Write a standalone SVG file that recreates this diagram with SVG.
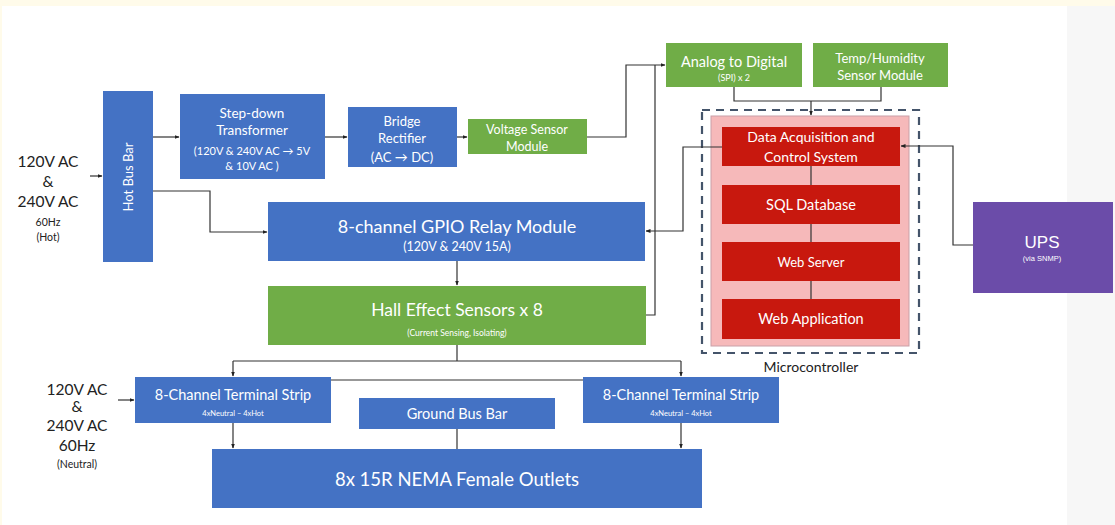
<svg xmlns="http://www.w3.org/2000/svg" width="1115" height="525" viewBox="0 0 1115 525">
<defs>
<marker id="ah" viewBox="0 0 10 10" refX="9" refY="5" markerWidth="5" markerHeight="5" orient="auto" markerUnits="userSpaceOnUse">
<path d="M0,1 L10,5 L0,9 z" fill="#222"/>
</marker>
<style>
.blue{fill:#4472C4}
.green{fill:#70AD47}
.red{fill:#C8180E}
.t{font-family:Lato,"Open Sans","Liberation Sans",sans-serif;fill:#fff;text-anchor:middle}
.k{font-family:Lato,"Open Sans","Liberation Sans",sans-serif;fill:#222;text-anchor:middle}
.a{font-family:"Liberation Sans",Arial,sans-serif;fill:#fff;text-anchor:middle}
.c{fill:none;stroke:#333;stroke-width:1.2}
.ar{marker-end:url(#ah)}
</style>
</defs>
<rect x="0" y="0" width="1115" height="525" fill="#ffffff"/>
<rect x="0" y="0" width="1115" height="6" fill="#FFFBEA"/>
<rect x="0" y="0" width="2" height="525" fill="#FFFBEA"/>
<rect x="1067" y="6" width="48" height="519" fill="#F7F7F7"/>

<g id="hot-input">
<text class="k" x="48" y="167" font-size="15.5">120V AC</text>
<text class="k" x="48" y="187" font-size="15.5">&amp;</text>
<text class="k" x="48" y="207" font-size="15.5">240V AC</text>
<text class="k" x="48" y="226" font-size="10.5">60Hz</text>
<text class="k" x="48" y="241" font-size="10.5">(Hot)</text>
</g>
<g id="hot-bus-bar">
<rect class="blue" x="103" y="91" width="50" height="171"/>
<text class="t" font-size="13" transform="translate(133,177) rotate(-90)">Hot Bus Bar</text>
</g>
<g id="step-down-transformer">
<rect class="blue" x="180" y="94" width="145" height="85"/>
<text class="t" x="252" y="118" font-size="13.5">Step-down</text>
<text class="t" x="252" y="135" font-size="13.5">Transformer</text>
<text class="t" x="252" y="155" font-size="11">(120V &amp; 240V AC → 5V</text>
<text class="t" x="252" y="170" font-size="11">&amp; 10V AC )</text>
</g>
<g id="bridge-rectifier">
<rect class="blue" x="348" y="107" width="109" height="60"/>
<text class="t" x="402" y="126" font-size="13">Bridge</text>
<text class="t" x="402" y="143" font-size="13">Rectifier</text>
<text class="t" x="402" y="162" font-size="13">(AC → DC)</text>
</g>
<g id="voltage-sensor">
<rect class="green" x="468" y="119" width="119" height="35"/>
<text class="t" x="527" y="134" font-size="12.5">Voltage Sensor</text>
<text class="t" x="527" y="151" font-size="12.5">Module</text>
</g>
<g id="analog-to-digital">
<rect class="green" x="666" y="43" width="136" height="44"/>
<text class="t" x="734" y="67" font-size="14.5">Analog to Digital</text>
<text class="t" x="734" y="81" font-size="9">(SPI) x 2</text>
</g>
<g id="temp-humidity">
<rect class="green" x="813" y="43" width="135" height="44"/>
<text class="t" x="880" y="63" font-size="13">Temp/Humidity</text>
<text class="t" x="880" y="80" font-size="13">Sensor Module</text>
</g>
<g id="gpio-relay">
<rect class="blue" x="268" y="202" width="377" height="59"/>
<text class="t" x="457" y="233" font-size="18">8-channel GPIO Relay Module</text>
<text class="t" x="457" y="251" font-size="12.5">(120V &amp; 240V 15A)</text>
</g>
<g id="hall-effect">
<rect class="green" x="268" y="286" width="378" height="59"/>
<text class="t" x="457" y="316" font-size="17.5">Hall Effect Sensors x 8</text>
<text class="t" x="457" y="336" font-size="8.5">(Current Sensing, Isolating)</text>
</g>
<g id="microcontroller">
<rect x="711" y="116" width="198" height="230" fill="#F6B9BA" stroke="#C9A0A8" stroke-width="1"/>
<rect x="702" y="110" width="217" height="243" fill="none" stroke="#44546A" stroke-width="2.2" stroke-dasharray="8,6"/>
<text class="k" x="811" y="372" font-size="14">Microcontroller</text>
</g>
<g id="data-acquisition">
<rect class="red" x="722" y="127" width="178" height="39"/>
<text class="t" x="811" y="142" font-size="14">Data Acquisition and</text>
<text class="t" x="811" y="162" font-size="14">Control System</text>
</g>
<g id="sql-database">
<rect class="red" x="722" y="185" width="178" height="39"/>
<text class="t" x="811" y="210" font-size="14.5">SQL Database</text>
</g>
<g id="web-server">
<rect class="red" x="722" y="242" width="178" height="39"/>
<text class="t" x="811" y="267" font-size="13">Web Server</text>
</g>
<g id="web-application">
<rect class="red" x="722" y="299" width="178" height="40"/>
<text class="t" x="811" y="324" font-size="14.5">Web Application</text>
</g>
<g id="ups">
<rect x="973" y="202" width="140" height="91" fill="#6B4CA9"/>
<text class="a" x="1042" y="248" font-size="17">UPS</text>
<text class="a" x="1042" y="261" font-size="7.5">(via SNMP)</text>
</g>
<g id="neutral-input">
<text class="k" x="77" y="395" font-size="15.5">120V AC</text>
<text class="k" x="77" y="412" font-size="15.5">&amp;</text>
<text class="k" x="77" y="431" font-size="15.5">240V AC</text>
<text class="k" x="77" y="451" font-size="15.5">60Hz</text>
<text class="k" x="77" y="468" font-size="10.5">(Neutral)</text>
</g>
<g id="terminal-strip-left">
<rect class="blue" x="135" y="377" width="196" height="46"/>
<text class="t" x="233" y="400" font-size="14.5">8-Channel Terminal Strip</text>
<text class="t" x="233" y="416" font-size="7.5">4xNeutral – 4xHot</text>
</g>
<g id="terminal-strip-right">
<rect class="blue" x="583" y="377" width="196" height="46"/>
<text class="t" x="681" y="400" font-size="14.5">8-Channel Terminal Strip</text>
<text class="t" x="681" y="416" font-size="7.5">4xNeutral – 4xHot</text>
</g>
<g id="ground-bus-bar">
<rect class="blue" x="359" y="398" width="196" height="31"/>
<text class="t" x="457" y="419" font-size="14.5">Ground Bus Bar</text>
</g>
<g id="outlets">
<rect class="blue" x="212" y="449" width="490" height="59"/>
<text class="t" x="457" y="486" font-size="18.5">8x 15R NEMA Female Outlets</text>
</g>

<g id="connectors">
<path class="c ar" d="M90,176 H102"/>
<path class="c ar" d="M153,137 H179"/>
<path class="c ar" d="M325,137 H347"/>
<path class="c ar" d="M457,137 H467"/>
<path class="c ar" d="M587,137 H626 V65 H665"/>
<path class="c" d="M646,315 H655 V65"/>
<path class="c" d="M734,87 V101 H881 V87"/>
<path class="c ar" d="M811,101 V115"/>
<path class="c ar" d="M722,147 H683 V231 H646"/>
<path class="c ar" d="M973,245 H953 V146 H901"/>
<path class="c ar" d="M153,191 H210 V232 H267"/>
<path class="c ar" d="M457,261 V285"/>
<path class="c" d="M457,345 V361"/>
<path class="c" d="M233,361 H681"/>
<path class="c ar" d="M233,361 V376"/>
<path class="c ar" d="M681,361 V376"/>
<path class="c" d="M331,380 H583"/>
<path class="c" d="M457,429 V449"/>
<path class="c ar" d="M233,423 V448"/>
<path class="c ar" d="M681,423 V448"/>
<path class="c ar" d="M118,400 H134"/>
<path class="c" d="M811,166 V185"/>
<path class="c" d="M811,224 V242"/>
<path class="c" d="M811,281 V299"/>
</g>
</svg>
